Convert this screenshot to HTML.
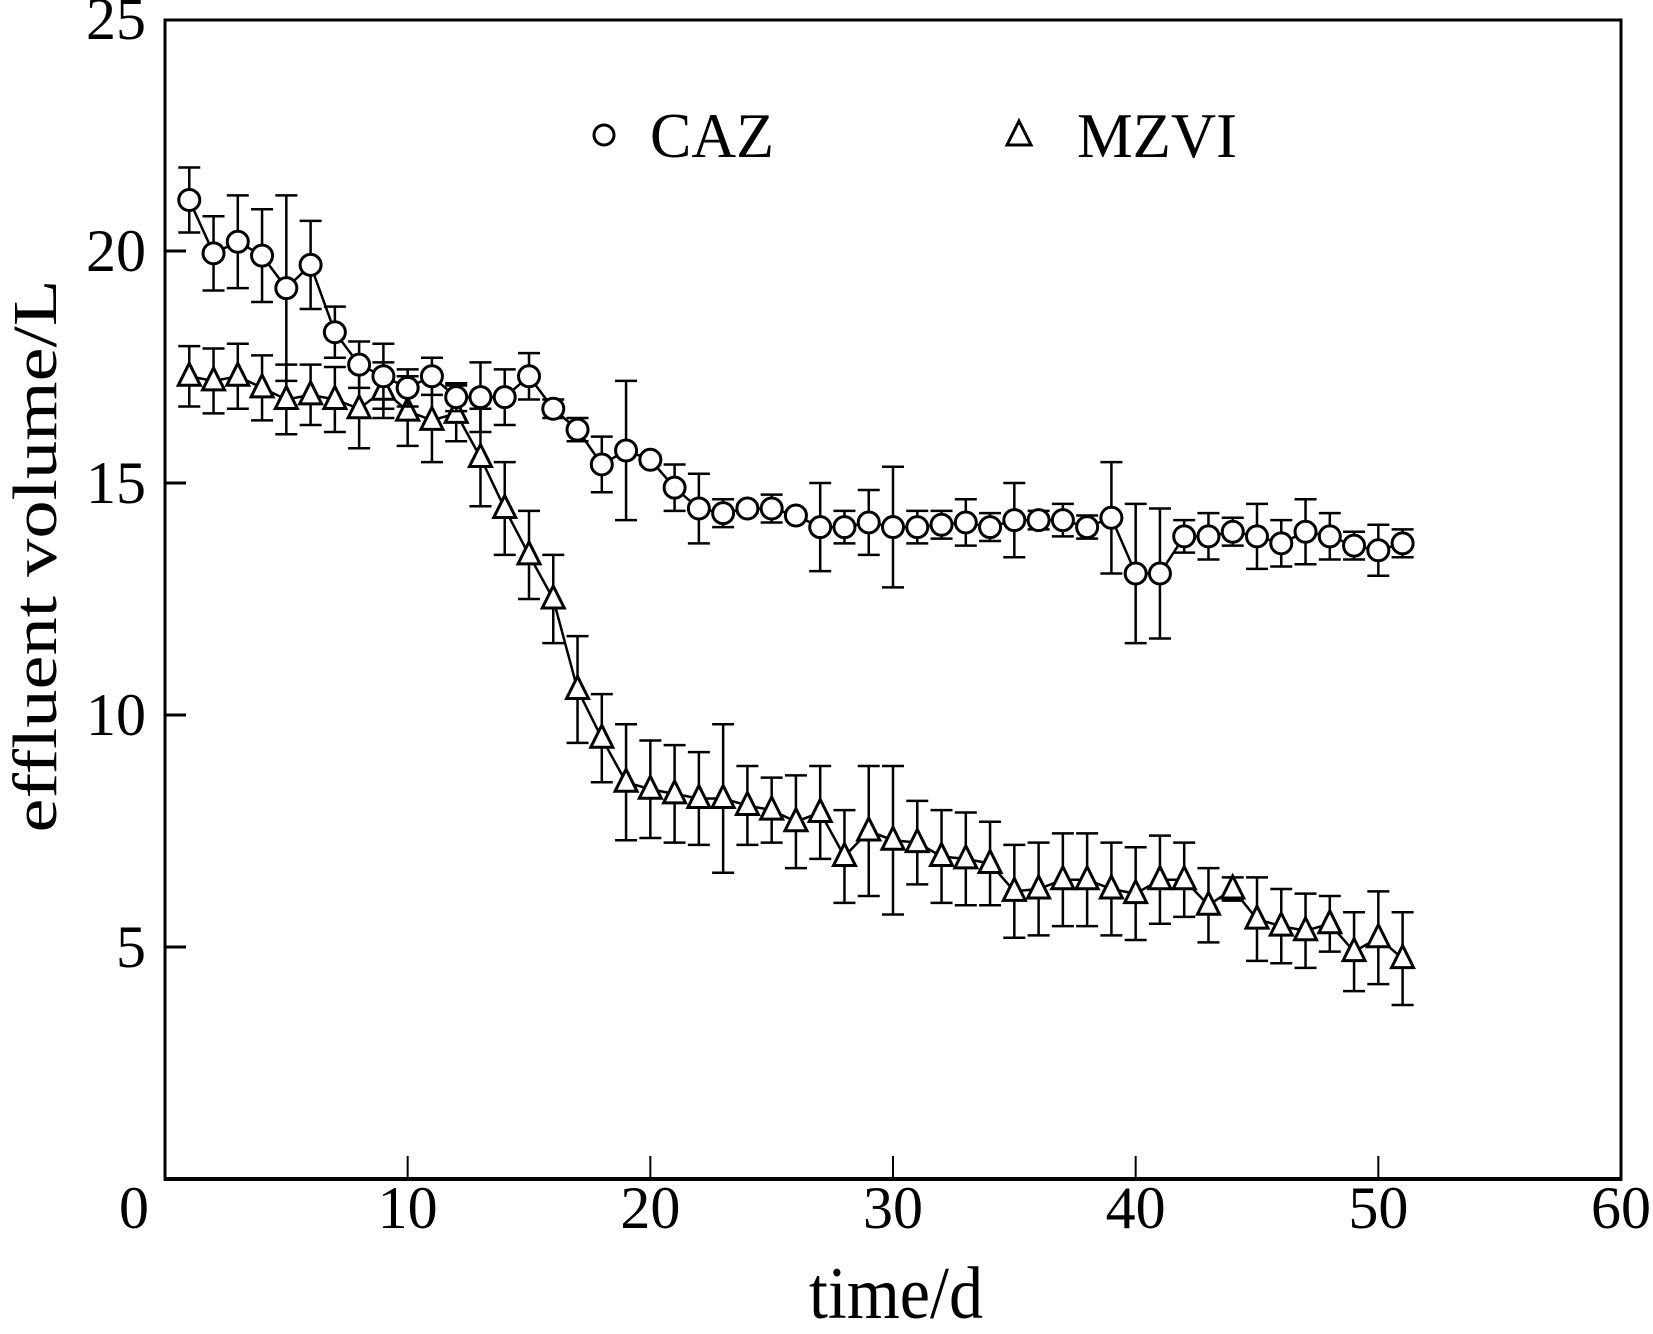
<!DOCTYPE html>
<html><head><meta charset="utf-8"><style>
html,body{margin:0;padding:0;background:#fff;}
svg text{font-family:"Liberation Serif",serif;fill:#000;}
</style></head><body>
<svg id="chart" width="1653" height="1329" viewBox="0 0 1653 1329" xmlns="http://www.w3.org/2000/svg">
<rect width="1653" height="1329" fill="#fff"/>
<g id="axes"></g>
<g id="series"></g>
<g id="legend">
  <circle cx="604" cy="135" r="10" fill="#fff" stroke="#000" stroke-width="3"/>
  <text x="650" y="157" font-size="64" textLength="124" lengthAdjust="spacingAndGlyphs">CAZ</text>
  <polygon points="1019,121 1031,145 1007,145" fill="#fff" stroke="#000" stroke-width="3"/>
  <text x="1077" y="157" font-size="64" textLength="160" lengthAdjust="spacingAndGlyphs">MZVI</text>
</g>
<text transform="translate(896,1318) scale(1,1.2)" font-size="62" text-anchor="middle" textLength="174" lengthAdjust="spacingAndGlyphs">time/d</text>
<text transform="translate(56,556) rotate(-90)" font-size="62" text-anchor="middle" textLength="553" lengthAdjust="spacingAndGlyphs">effluent volume/L</text>
</svg>
<script>
const days = [1,2,3,4,5,6,7,8,9,10,11,12,13,14,15,16,17,18,19,20,21,22,23,24,25,26,27,28,29,30,31,32,33,34,35,36,37,38,39,40,41,42,43,44,45,46,47,48,49,50,51];
const cazValues = [21.1,19.95,20.2,19.9,19.2,19.7,18.25,17.55,17.3,17.05,17.3,16.85,16.85,16.85,17.3,16.6,16.15,15.4,15.7,15.5,14.9,14.45,14.35,14.45,14.45,14.3,14.05,14.05,14.15,14.05,14.05,14.1,14.15,14.05,14.2,14.2,14.2,14.05,14.25,13.05,13.05,13.85,13.85,13.95,13.85,13.7,13.95,13.85,13.65,13.55,13.7];
const cazErrors = [0.7,0.8,1.0,1.0,2.0,0.95,0.55,0.5,0.7,0.4,0.4,0.3,0.75,0.6,0.5,0.2,0.25,0.6,1.5,0.1,0.5,0.75,0.3,0.1,0.3,0.1,0.95,0.35,0.7,1.3,0.35,0.3,0.5,0.3,0.8,0.2,0.35,0.25,1.2,1.5,1.4,0.35,0.5,0.3,0.7,0.5,0.7,0.5,0.3,0.55,0.3];
const mzviValues = [17.3,17.2,17.3,17.05,16.8,16.9,16.8,16.6,17.0,16.55,16.35,16.5,15.55,14.45,13.45,12.5,10.55,9.5,8.55,8.4,8.3,8.2,8.2,8.05,7.95,7.7,7.9,6.95,7.5,7.3,7.25,6.95,6.9,6.8,6.2,6.25,6.45,6.45,6.25,6.15,6.45,6.45,5.9,6.25,5.6,5.45,5.35,5.5,4.9,5.2,4.75];
const mzviErrors = [0.65,0.7,0.7,0.7,0.75,0.65,0.7,0.85,0.6,0.75,0.9,0.6,1.05,1.0,0.95,0.95,1.15,0.95,1.25,1.05,1.05,1.0,1.6,0.85,0.7,1.0,1.0,1.0,1.4,1.6,0.9,1.0,1.0,0.9,1.0,1.0,1.0,1.0,1.0,1.0,0.95,0.8,0.8,0.25,0.9,0.8,0.8,0.6,0.85,1.0,1.0];
const xTicks = [0,10,20,30,40,50,60];
const yTicks = [5,10,15,20,25];

const NS = "http://www.w3.org/2000/svg";
const X0 = 165, X1 = 1621, Y0 = 1179, Y1 = 19;
const sx = v => X0 + (v - 0) / 60 * (X1 - X0);
const sy = v => Y0 - (v - 0) / 25 * (Y0 - Y1);
function mk(tag, attrs, parent) {
  const e = document.createElementNS(NS, tag);
  for (const k in attrs) e.setAttribute(k, attrs[k]);
  parent.appendChild(e);
  return e;
}
const axes = document.getElementById('axes');
const series = document.getElementById('series');

let e = mk('rect', {x: X0, y: Y1 + 1, width: X1 - X0, height: Y0 - Y1 - 1, fill: 'none', stroke: '#000', 'stroke-width': 3}, axes);


e = mk('line', {x1: X0 - 1, x2: X1 + 1, y1: Y0, y2: Y0, stroke: '#000', 'stroke-width': 4}, axes);



xTicks.forEach((t, i) => {
  if (t > 0 && t < 60) {
    const tk = mk('line', {x1: sx(t), x2: sx(t), y1: Y0, y2: Y0 - 23, stroke: '#000', 'stroke-width': 2}, axes);
    
    
  }
  const lx = t === 0 ? sx(t) - 31 : sx(t);
  const lb = mk('text', {x: lx, y: 1228, 'font-size': 60, 'text-anchor': 'middle'}, axes);
  lb.textContent = String(t);
  
  
});
yTicks.forEach(t => {
  if (t < 25) {
    const tk = mk('line', {x1: X0, x2: X0 + 21, y1: sy(t), y2: sy(t), stroke: '#000', 'stroke-width': 3}, axes);
    
    
  }
  const lb = mk('text', {x: 146, y: sy(t) + 20, 'font-size': 60, 'text-anchor': 'end'}, axes);
  lb.textContent = String(t);
  
  
});

function drawSeries(vals, errs, kind) {
  const g = mk('g', {}, series);
  
  
  const pts = days.map((d, i) => sx(d) + ',' + sy(vals[i])).join(' ');
  const pl = mk('polyline', {points: pts, fill: 'none', stroke: '#000', 'stroke-width': 2.5}, g);
  
  
  days.forEach((d, i) => {
    const x = sx(d), yt = sy(vals[i] + errs[i]), yb = sy(vals[i] - errs[i]);
    const eb = mk('path', {d: `M${x},${yt}V${yb}M${x-11},${yt}H${x+11}M${x-11},${yb}H${x+11}`, stroke: '#000', 'stroke-width': 2.5, fill: 'none'}, g);
    
    
  });
  days.forEach((d, i) => {
    const x = sx(d), y = sy(vals[i]);
    let m;
    if (kind === 'caz') {
      m = mk('circle', {cx: x, cy: y, r: 10.5, fill: '#fff', stroke: '#000', 'stroke-width': 3}, g);
    } else {
      m = mk('polygon', {points: `${x},${y-13} ${x+11},${y+9} ${x-11},${y+9}`, fill: '#fff', stroke: '#000', 'stroke-width': 3}, g);
    }
    
    
  });
}
drawSeries(mzviValues, mzviErrors, 'mzvi');
drawSeries(cazValues, cazErrors, 'caz');
</script>
</body></html>
